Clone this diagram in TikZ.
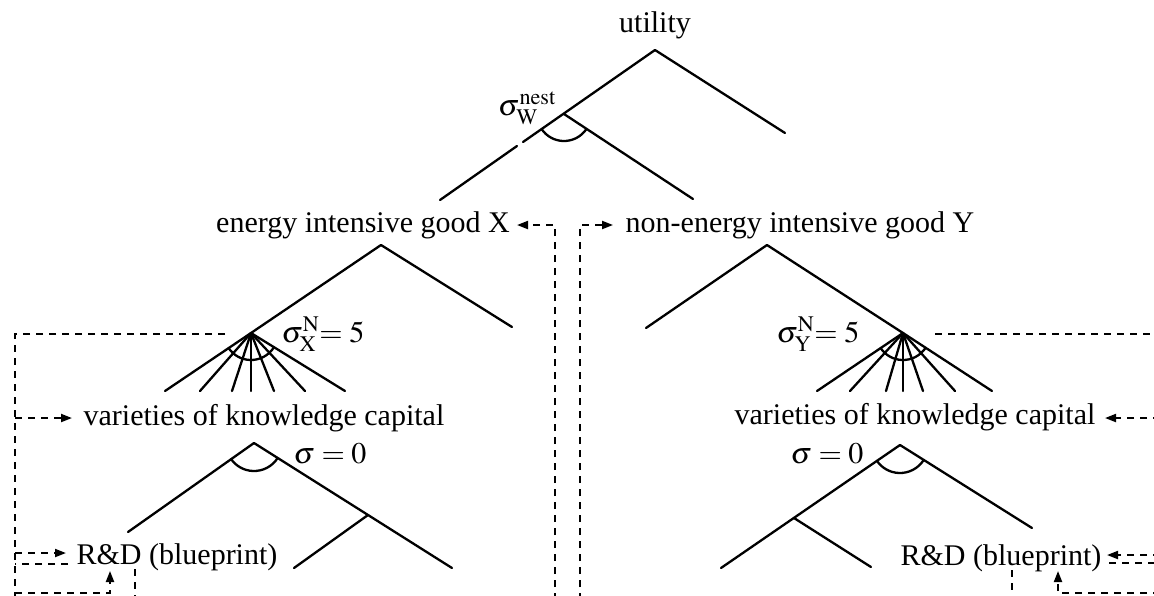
\documentclass[tikz,border=0pt]{standalone}
\usepackage{mathptmx}
\usepackage{fontspec}
\setmainfont{Liberation Serif}
\usetikzlibrary{arrows.meta,calc}
\begin{document}
\begin{tikzpicture}[x=1pt,y=-1pt,
  font=\fontsize{30}{36}\selectfont,
  lbl/.style={inner sep=0pt, anchor=base},
  br/.style={line width=2.3pt, line cap=round},
  dsh/.style={line width=2pt, dash pattern=on 7pt off 6pt},
  arr/.style={-{Triangle[length=11pt,width=8pt]}}]
\useasboundingbox (0,0) rectangle (1154,595);
\clip (0,0) rectangle (1154,595);

% ---------- text nodes
\node[lbl] (util) at (655,32) {utility};
\node[lbl] (egx) at (363,232) {energy intensive good X};
\node[lbl] (ngy) at (800,232) {non-energy intensive good Y};
\node[lbl] (kcl) at (264,425) {varieties of knowledge capital};
\node[lbl] (kcr) at (915,424) {varieties of knowledge capital};
\node[lbl] (rdl) at (177,564) {R\&D (blueprint)};
\node[lbl] (rdr) at (1001,565) {R\&D (blueprint)};

% ---------- elasticity labels
\node[lbl] (sw)  at (527,115) {$\sigma^{\mathrm{nest}}_{\mathrm{W}}$};
\node[lbl] (sxn) at (323,342) {$\sigma^{\mathrm{N}}_{\mathrm{X}}\mkern-4mu=5$};
\node[lbl] (syn) at (818,342) {$\sigma^{\mathrm{N}}_{\mathrm{Y}}\mkern-4mu=5$};
\node[lbl] (s0l) at (330,463) {$\sigma=0$};
\node[lbl] (s0r) at (827,463) {$\sigma=0$};

% ---------- top nest
\coordinate (tA) at (655,50);
\coordinate (tR) at (785,133);
\coordinate (tL) at (440,200);
\coordinate (tB) at (564,114);
\coordinate (tBE) at (693,199);
\coordinate (tG1) at (523,142);
\coordinate (tG2) at (517,146);
\draw[br] (tA) -- (tR);
\draw[br] (tA) -- (tG1);
\draw[br] (tG2) -- (tL);
\draw[br] (tB) -- (tBE);
\draw[br] (tB) ++(33.4:27) arc[start angle=33.4,end angle=145.1,radius=27];

% ---------- X tree
\coordinate (xA) at (381,245);
\coordinate (xR) at (512,327);
\coordinate (xF) at (251,333);
\draw[br] (xA) -- (xR);
\draw[br] (xA) -- (xF);
\foreach \e in {165,200,232,251,274,305,345}
  \draw[br] (xF) -- (\e,391);
\draw[br] (xF) ++(31.7:27) arc[start angle=31.7,end angle=146,radius=27];

% ---------- Y tree
\coordinate (yA) at (767,245);
\coordinate (yL) at (646,328);
\coordinate (yF) at (903,333);
\draw[br] (yA) -- (yL);
\draw[br] (yA) -- (yF);
\foreach \e in {817,850,886,903,923,955,992}
  \draw[br] (yF) -- (\e,391);
\draw[br] (yF) ++(33:27) arc[start angle=33,end angle=146,radius=27];

% ---------- left sigma=0 tree
\coordinate (aA) at (254,443);
\coordinate (aL) at (128,532);
\coordinate (aR) at (452,568);
\coordinate (aB) at (368,515);
\coordinate (aBE) at (294,568);
\draw[br] (aA) -- (aL);
\draw[br] (aA) -- (aR);
\draw[br] (aB) -- (aBE);
\draw[br] (aA) ++(32.3:28) arc[start angle=32.3,end angle=144.8,radius=28];

% ---------- right sigma=0 tree
\coordinate (bA) at (900,445);
\coordinate (bR) at (1032,528);
\coordinate (bL) at (721,568);
\coordinate (bB) at (794,518);
\coordinate (bBE) at (871,567);
\draw[br] (bA) -- (bR);
\draw[br] (bA) -- (bL);
\draw[br] (bB) -- (bBE);
\draw[br] (bA) ++(32.2:28) arc[start angle=32.2,end angle=145.5,radius=28];

% ---------- dashed links, middle
\coordinate (mL0) at (555,600);
\coordinate (mL1) at (555,225);
\coordinate (mLe) at (517,225);
\coordinate (mR0) at (580,600);
\coordinate (mR1) at (580,225);
\coordinate (mRe) at (613,225);
\draw[dsh,arr] (mL0) -- (mL1) -- (mLe);
\draw[dsh,arr] (mR0) -- (mR1) -- (mRe);

% ---------- dashed links, left
\coordinate (l0) at (225,334);
\coordinate (l1) at (15,334);
\coordinate (l2) at (15,600);
\coordinate (lk0) at (15,418);
\coordinate (lk1) at (72,418);
\coordinate (lr0) at (15,553);
\coordinate (lr1) at (66,553);
\coordinate (ls0) at (68,564);
\coordinate (ls1) at (15,564);
\coordinate (lv0) at (135,569);
\coordinate (lv1) at (135,600);
\coordinate (lb0) at (15,593);
\coordinate (lb1) at (110,593);
\coordinate (lb2) at (110,571);
\draw[dsh] (l0) -- (l1) -- (l2);
\draw[dsh,arr] (lk0) -- (lk1);
\draw[dsh,arr] (lr0) -- (lr1);
\draw[dsh] (ls0) -- (ls1);
\draw[dsh] (lv0) -- (lv1);
\draw[dsh,arr] (lb0) -- (lb1) -- (lb2);

% ---------- dashed links, right
\coordinate (r0) at (935,334);
\coordinate (r1) at (1160,334);
\coordinate (rk0) at (1160,418);
\coordinate (rk1) at (1105,418);
\coordinate (rr0) at (1160,555);
\coordinate (rr1) at (1107,555);
\coordinate (rs0) at (1109,563);
\coordinate (rs1) at (1160,563);
\coordinate (rv0) at (1012,570);
\coordinate (rv1) at (1012,600);
\coordinate (rb0) at (1160,593);
\coordinate (rb1) at (1058,593);
\coordinate (rb2) at (1058,571);
\draw[dsh] (r0) -- (r1);
\draw[dsh,arr] (rk0) -- (rk1);
\draw[dsh,arr] (rr0) -- (rr1);
\draw[dsh] (rs0) -- (rs1);
\draw[dsh] (rv0) -- (rv1);
\draw[dsh,arr] (rb0) -- (rb1) -- (rb2);
\end{tikzpicture}
\end{document}
